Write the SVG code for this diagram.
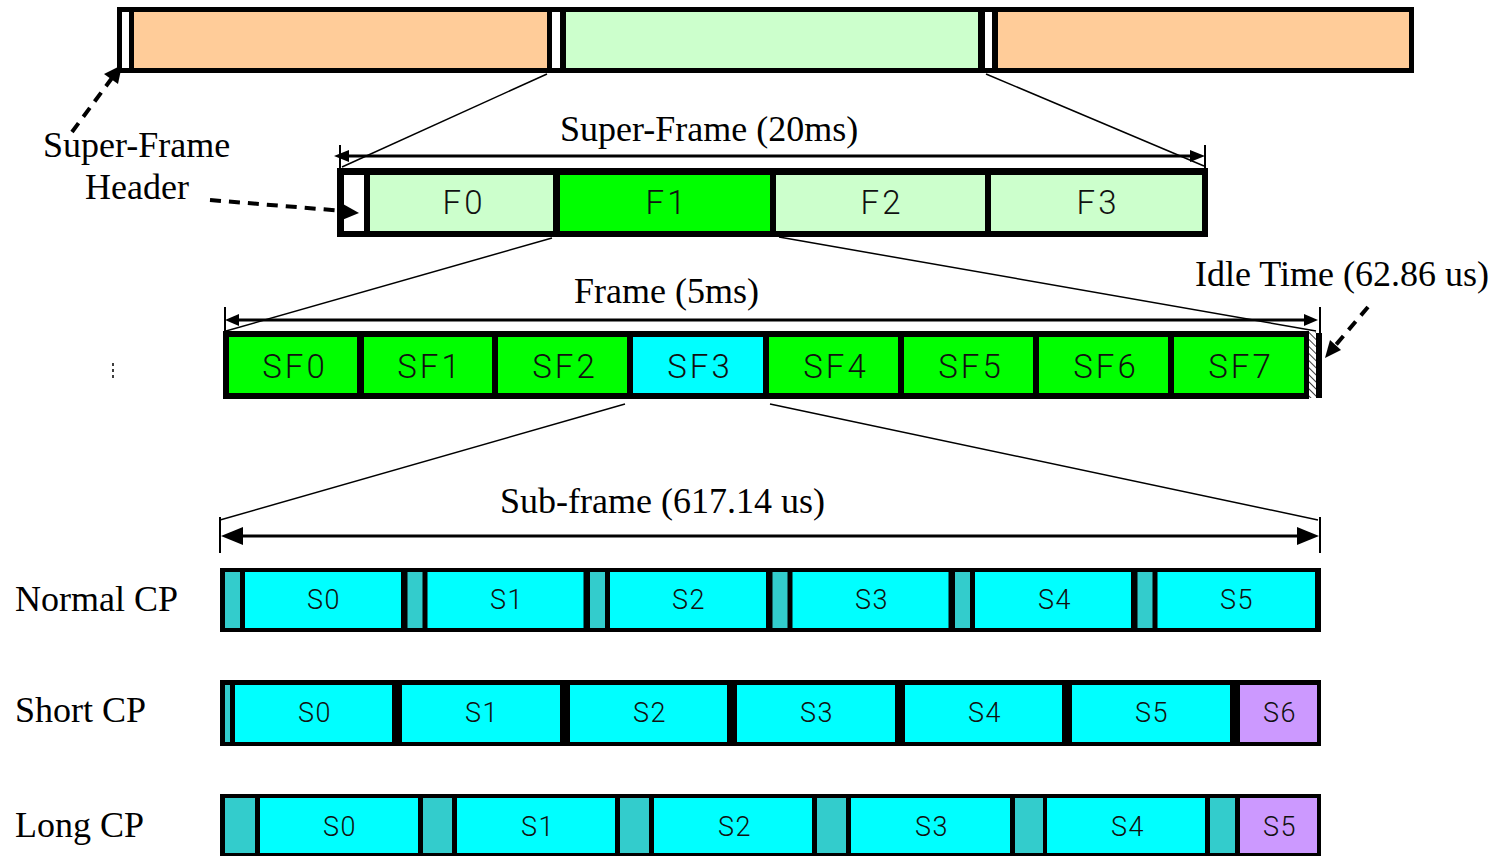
<svg xmlns="http://www.w3.org/2000/svg" width="1499" height="856" viewBox="0 0 1499 856">
<style>
.t{font-family:"Liberation Serif","Times New Roman",serif;font-size:36px;fill:#000}
.c{font-family:Roboto,"Liberation Sans",Arial,sans-serif;font-weight:300;fill:#111;text-anchor:middle}
.cl{font-size:33px;letter-spacing:3px}
.cs{font-size:27px;letter-spacing:1.5px}
.or{fill:#FFCC99}.lg{fill:#CCFFCC}.gr{fill:#00FF00}.cy{fill:#00FFFF}.tl{fill:#33CCCC}.pu{fill:#CC99FF}.wh{fill:#fff}
.zl{stroke:#000;stroke-width:1.5;fill:none}
.dim{stroke:#000;stroke-width:3;fill:none}
.tick{stroke:#000;stroke-width:2}
.dash{stroke:#000;stroke-width:4;stroke-dasharray:11 8;fill:none}
</style>
<defs>
<pattern id="hatch" patternUnits="userSpaceOnUse" width="5" height="5" patternTransform="rotate(-45)">
<rect width="5" height="5" fill="#fff"/>
<line x1="0" y1="0" x2="0" y2="5" stroke="#000" stroke-width="1.5"/>
</pattern>
</defs>

<g id="top-bar">
<rect x="117" y="7" width="1297" height="66" fill="#000"/>
<rect class="wh" x="122" y="12" width="7" height="56"/>
<rect class="or" x="134" y="12" width="413" height="56"/>
<rect class="wh" x="552" y="12" width="8" height="56"/>
<rect class="lg" x="566" y="12" width="412" height="56"/>
<rect class="wh" x="985" y="12" width="7" height="56"/>
<rect class="or" x="998" y="12" width="411" height="56"/>
</g>

<g id="super-frame-row">
<rect x="337" y="168" width="871" height="69" fill="#000"/>
<rect class="wh" x="344" y="175" width="20" height="56"/>
<rect class="lg" x="370" y="175" width="183" height="56"/>
<rect class="gr" x="560" y="175" width="210" height="56"/>
<rect class="lg" x="776" y="175" width="209" height="56"/>
<rect class="lg" x="991" y="175" width="211" height="56"/>
<text class="c cl" x="464" y="214">F0</text>
<text class="c cl" x="667" y="214">F1</text>
<text class="c cl" x="882" y="214">F2</text>
<text class="c cl" x="1098" y="214">F3</text>
</g>

<g id="frame-row">
<rect x="223" y="331" width="1086" height="68" fill="#000"/>
<rect class="gr" x="229" y="337" width="128" height="56"/>
<rect class="gr" x="364" y="337" width="128" height="56"/>
<rect class="gr" x="498" y="337" width="129" height="56"/>
<rect class="cy" x="633" y="337" width="130" height="56"/>
<rect class="gr" x="769" y="337" width="129" height="56"/>
<rect class="gr" x="904" y="337" width="129" height="56"/>
<rect class="gr" x="1039" y="337" width="129" height="56"/>
<rect class="gr" x="1174" y="337" width="130" height="56"/>
<rect x="1309" y="332" width="7" height="66" fill="url(#hatch)"/>
<rect x="1316" y="333" width="6" height="65" fill="#000"/>
<text class="c cl" x="295" y="378">SF0</text>
<text class="c cl" x="430" y="378">SF1</text>
<text class="c cl" x="565" y="378">SF2</text>
<text class="c cl" x="700" y="378">SF3</text>
<text class="c cl" x="836" y="378">SF4</text>
<text class="c cl" x="971" y="378">SF5</text>
<text class="c cl" x="1106" y="378">SF6</text>
<text class="c cl" x="1241" y="378">SF7</text>
</g>

<g id="normal-cp-row">
<rect x="220" y="568" width="1101" height="64" fill="#000"/>
<rect class="tl" x="225" y="572" width="15" height="56"/>
<rect class="cy" x="245" y="572" width="156" height="56"/>
<rect class="tl" x="407.5" y="572" width="15" height="56"/>
<rect class="cy" x="427.5" y="572" width="156" height="56"/>
<rect class="tl" x="590" y="572" width="15" height="56"/>
<rect class="cy" x="610" y="572" width="156" height="56"/>
<rect class="tl" x="772.5" y="572" width="15" height="56"/>
<rect class="cy" x="792.5" y="572" width="156" height="56"/>
<rect class="tl" x="955" y="572" width="15" height="56"/>
<rect class="cy" x="975" y="572" width="156" height="56"/>
<rect class="tl" x="1137.5" y="572" width="15" height="56"/>
<rect class="cy" x="1157.5" y="572" width="157.5" height="56"/>
<text class="c cs" x="324" y="609">S0</text>
<text class="c cs" x="507" y="609">S1</text>
<text class="c cs" x="689" y="609">S2</text>
<text class="c cs" x="872" y="609">S3</text>
<text class="c cs" x="1055" y="609">S4</text>
<text class="c cs" x="1237" y="609">S5</text>
</g>

<g id="short-cp-row">
<rect x="220" y="680" width="1101" height="66" fill="#000"/>
<rect class="tl" x="225" y="685" width="5" height="57"/>
<rect class="cy" x="235" y="685" width="157" height="57"/>
<rect class="cy" x="402" y="685" width="158" height="57"/>
<rect class="cy" x="570" y="685" width="157" height="57"/>
<rect class="cy" x="737" y="685" width="158" height="57"/>
<rect class="cy" x="905" y="685" width="157" height="57"/>
<rect class="cy" x="1072" y="685" width="158" height="57"/>
<rect class="pu" x="1240" y="685" width="77" height="57"/>
<text class="c cs" x="315" y="722">S0</text>
<text class="c cs" x="482" y="722">S1</text>
<text class="c cs" x="650" y="722">S2</text>
<text class="c cs" x="817" y="722">S3</text>
<text class="c cs" x="985" y="722">S4</text>
<text class="c cs" x="1152" y="722">S5</text>
<text class="c cs" x="1280" y="722">S6</text>
</g>

<g id="long-cp-row">
<rect x="220" y="794" width="1101" height="64" fill="#000"/>
<rect class="tl" x="225" y="798" width="30" height="55"/>
<rect class="cy" x="260" y="798" width="158" height="55"/>
<rect class="tl" x="423" y="798" width="29" height="55"/>
<rect class="cy" x="457" y="798" width="158" height="55"/>
<rect class="tl" x="620" y="798" width="29" height="55"/>
<rect class="cy" x="654" y="798" width="158" height="55"/>
<rect class="tl" x="817" y="798" width="29" height="55"/>
<rect class="cy" x="851" y="798" width="159" height="55"/>
<rect class="tl" x="1015" y="798" width="28" height="55"/>
<rect class="cy" x="1047" y="798" width="158" height="55"/>
<rect class="tl" x="1210" y="798" width="25" height="55"/>
<rect class="pu" x="1240" y="798" width="77" height="55"/>
<text class="c cs" x="340" y="836">S0</text>
<text class="c cs" x="538" y="836">S1</text>
<text class="c cs" x="735" y="836">S2</text>
<text class="c cs" x="932" y="836">S3</text>
<text class="c cs" x="1128" y="836">S4</text>
<text class="c cs" x="1280" y="836">S5</text>
</g>

<g id="labels">
<text class="t" x="560" y="141">Super-Frame (20ms)</text>
<text class="t" x="574" y="303">Frame (5ms)</text>
<text class="t" x="500" y="513">Sub-frame (617.14 us)</text>
<text class="t" x="43" y="157">Super-Frame</text>
<text class="t" x="85" y="199">Header</text>
<text class="t" x="1195" y="286">Idle Time (62.86 us)</text>
<text class="t" x="15" y="611">Normal CP</text>
<text class="t" x="15" y="722">Short CP</text>
<text class="t" x="15" y="837">Long CP</text>
</g>

<g id="connectors">
<line class="zl" x1="547" y1="74" x2="342" y2="167"/>
<line class="zl" x1="986" y1="74" x2="1204" y2="166"/>
<line class="zl" x1="552" y1="238" x2="226" y2="331"/>
<line class="zl" x1="779" y1="237" x2="1316" y2="331"/>
<line class="zl" x1="625" y1="404" x2="220" y2="520"/>
<line class="zl" x1="770" y1="404" x2="1318" y2="520"/>

<line class="tick" x1="340" y1="145" x2="340" y2="168"/>
<line class="tick" x1="1205" y1="145" x2="1205" y2="168"/>
<line class="dim" x1="345" y1="156" x2="1195" y2="156"/>
<polygon points="334,156 349,150 349,162"/>
<polygon points="1205,156 1190,150 1190,162"/>

<line class="tick" x1="225" y1="307" x2="225" y2="331"/>
<line class="tick" x1="1320" y1="307" x2="1320" y2="333"/>
<line class="dim" x1="232" y1="320" x2="1310" y2="320"/>
<polygon points="225,320 239,314 239,326"/>
<polygon points="1318,320 1304,314 1304,326"/>

<line class="tick" x1="220" y1="517" x2="220" y2="553"/>
<line class="tick" x1="1320" y1="517" x2="1320" y2="553"/>
<line class="dim" x1="235" y1="536" x2="1305" y2="536" stroke-width="3.5"/>
<polygon points="221,536 243,527 243,545"/>
<polygon points="1319,536 1297,527 1297,545"/>

<line class="dash" x1="72" y1="132" x2="112" y2="78"/>
<polygon points="122,65 118,84 104,74"/>
<line class="dash" x1="210" y1="200" x2="344" y2="211"/>
<polygon points="359,213 342,220 343,204"/>
<line class="dash" x1="1368" y1="307" x2="1334" y2="347"/>
<polygon points="1325,358 1330,340 1341,350"/>
<line x1="113" y1="363" x2="113" y2="378" stroke="#000" stroke-width="1.5" stroke-dasharray="3 3"/>
</g>
</svg>
